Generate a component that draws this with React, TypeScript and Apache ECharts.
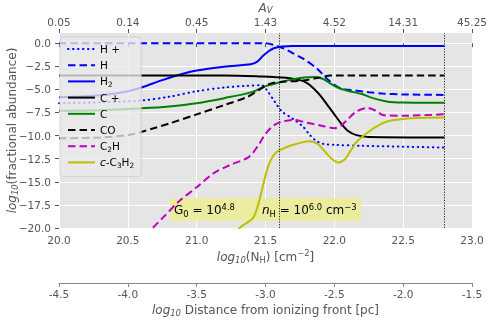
import React, { useEffect, useRef } from 'react';
import * as echarts from 'echarts';

// ---------- data ----------
const NH_TICKS = [20, 20.5, 21, 21.5, 22, 22.5, 23];
const AV_LABELS = ['0.05', '0.14', '0.45', '1.43', '4.52', '14.31', '45.25'];
const Y_TICKS = [-20, -17.5, -15, -12.5, -10, -7.5, -5, -2.5, 0];
const DIST_TICKS = [-4.5, -4, -3.5, -3, -2.5, -2, -1.5];
const MARKER_X = [21.6, 22.8];

const H_PLUS = [
  [20.0, -6.5], [20.3, -6.4], [20.6, -6.2], [20.8, -5.8], [21.0, -5.2], [21.2, -4.8],
  [21.35, -4.62], [21.47, -4.55], [21.52, -5.3], [21.57, -6.4], [21.62, -7.4], [21.7, -8.2],
  [21.77, -9.0], [21.82, -9.9], [21.87, -10.6], [21.92, -10.9], [22.0, -11.0], [22.2, -11.1],
  [22.5, -11.2], [22.8, -11.3],
];
const H_ATOM = [
  [20.0, 0.0], [21.0, 0.0], [21.5, 0.0], [21.55, -0.15], [21.63, -0.55], [21.7, -1.1],
  [21.77, -1.65], [21.87, -2.7], [21.95, -3.9], [22.02, -4.7], [22.08, -5.0], [22.14, -5.1],
  [22.25, -5.3], [22.35, -5.45], [22.5, -5.55], [22.8, -5.6],
];
const H2 = [
  [20.0, -5.85], [20.2, -5.75], [20.35, -5.55], [20.5, -5.2], [20.6, -4.8], [20.75, -4.0],
  [20.9, -3.3], [21.0, -2.95], [21.2, -2.55], [21.4, -2.25], [21.44, -2.0], [21.48, -1.4],
  [21.52, -0.9], [21.56, -0.55], [21.62, -0.35], [21.7, -0.3], [22.0, -0.3], [22.8, -0.3],
];
const C_PLUS = [
  [20.0, -3.5], [21.2, -3.5], [21.45, -3.6], [21.65, -3.75], [21.75, -4.0], [21.8, -4.3],
  [21.85, -4.9], [21.9, -5.7], [21.95, -6.7], [22.0, -7.7], [22.05, -8.7], [22.1, -9.5],
  [22.16, -9.95], [22.25, -10.15], [22.8, -10.2],
];
const C_ATOM = [
  [20.0, -7.3], [20.3, -7.25], [20.6, -7.05], [20.8, -6.85], [21.0, -6.5], [21.2, -5.95],
  [21.4, -5.3], [21.5, -4.65], [21.6, -4.25], [21.7, -3.9], [21.8, -3.68], [21.87, -3.65],
  [21.92, -3.9], [21.97, -4.35], [22.03, -4.85], [22.11, -5.2], [22.2, -5.5], [22.28, -5.95],
  [22.38, -6.3], [22.5, -6.42], [22.8, -6.45],
];
const CO = [
  [20.0, -10.3], [20.3, -10.2], [20.5, -9.95], [20.6, -9.6], [20.7, -9.15], [20.8, -8.7],
  [21.0, -7.7], [21.2, -6.7], [21.37, -5.8], [21.46, -5.0], [21.53, -4.4], [21.6, -4.2],
  [21.77, -4.05], [21.9, -3.7], [21.97, -3.5], [22.1, -3.5], [22.8, -3.5],
];
const C2H = [
  [20.62, -20.8], [20.68, -20.0], [20.76, -18.8], [20.88, -17.0], [21.0, -15.6], [21.12, -14.1],
  [21.24, -13.2], [21.38, -12.3], [21.45, -11.0], [21.5, -9.8], [21.56, -8.9], [21.62, -8.5],
  [21.7, -8.3], [21.8, -8.6], [21.9, -8.9], [22.0, -9.2], [22.05, -8.9], [22.1, -8.2],
  [22.16, -7.4], [22.24, -7.0], [22.3, -7.3], [22.36, -7.8], [22.5, -7.85], [22.8, -7.7],
];
const C_C3H2 = [
  [21.29, -20.5], [21.32, -19.9], [21.41, -18.9], [21.45, -17.3], [21.48, -15.5], [21.52, -13.3],
  [21.56, -12.1], [21.6, -11.6], [21.7, -11.0], [21.82, -10.6], [21.88, -10.9], [21.93, -11.7],
  [21.98, -12.5], [22.03, -12.9], [22.08, -12.5], [22.12, -11.6], [22.16, -10.7], [22.24, -9.7],
  [22.32, -8.9], [22.4, -8.4], [22.5, -8.2], [22.6, -8.1], [22.8, -8.05],
];

const DOT = [0.5, 4.5];
const DASH = [7.5, 4];
const SPECIES = [
  { name: 'H +', label: 'H +', data: H_PLUS, color: '#0000ff', dash: DOT as any },
  { name: 'H', label: 'H', data: H_ATOM, color: '#0000ff', dash: DASH as any },
  { name: 'H2', label: 'H{s|2}', data: H2, color: '#0000ff', dash: 'solid' as any },
  { name: 'C +', label: 'C +', data: C_PLUS, color: '#000000', dash: 'solid' as any },
  { name: 'C', label: 'C', data: C_ATOM, color: '#008000', dash: 'solid' as any },
  { name: 'CO', label: 'CO', data: CO, color: '#000000', dash: DASH as any },
  { name: 'C2H', label: 'C{s|2}H', data: C2H, color: '#bf00bf', dash: DASH as any },
  { name: 'c-C3H2', label: '{i|c}-C{s|3}H{s|2}', data: C_C3H2, color: '#bfbf00', dash: 'solid' as any },
];

const FONT = 'DejaVu Sans';
const GRAY = '#555555';

function richSet(size: number, color: string, lh?: number) {
  const sub = size * 0.7;
  return {
    s: { fontSize: sub, lineHeight: sub, verticalAlign: 'bottom', fontFamily: FONT, color },
    p: { fontSize: sub, lineHeight: sub, verticalAlign: 'top', fontFamily: FONT, color },
    i: { fontSize: size, lineHeight: lh ?? size + 3, fontStyle: 'italic', fontFamily: FONT, color },
    is: { fontSize: sub, lineHeight: sub, verticalAlign: 'bottom', fontStyle: 'italic', fontFamily: FONT, color },
  };
}

const fmtMinus = (v: number) => (v < 0 ? '\u2212' : '') + Math.abs(v).toFixed(1);

export default function App() {
  const ref = useRef<HTMLDivElement>(null);
  useEffect(() => {
    if (!ref.current) return;
    const chart = echarts.init(ref.current, null, { renderer: 'svg' });
    const legendLabels: Record<string, string> = {};
    SPECIES.forEach((s) => (legendLabels[s.name] = s.label));

    const series: any[] = SPECIES.map((s, i) => ({
      type: 'line',
      name: s.name,
      data: s.data,
      xAxisIndex: 0,
      yAxisIndex: 0,
      showSymbol: false,
      symbol: 'none',
      smooth: 0.3,
      clip: true,
      z: 3,
      lineStyle: { color: s.color, width: 2, type: s.dash, cap: s.dash === DOT ? 'round' : 'butt' },
      itemStyle: { color: s.color },
      markLine: i === 0 ? {
        silent: true,
        symbol: 'none',
        label: { show: false },
        lineStyle: { color: '#222', width: 1, type: [1.2, 1.5], cap: 'butt' },
        data: MARKER_X.map((x) => ({ xAxis: x })),
      } : undefined,
    }));

    const nameStyle = { fontFamily: FONT, fontSize: 12, lineHeight: 15, color: GRAY, rich: richSet(12, GRAY) };

    const option: any = {
      animation: false,
      grid: {
        left: 59, top: 33, right: 19, bottom: 93, show: true, backgroundColor: '#E5E5E5', borderWidth: 0,
        containLabel: false, outerBoundsMode: 'none',
      },
      legend: {
        left: 60, top: 37, orient: 'vertical',
        padding: [5, 7, 7, 7],
        itemWidth: 27, itemHeight: 14, itemGap: 2.2,
        backgroundColor: 'rgba(235,235,235,0.78)',
        borderColor: 'rgba(204,204,204,0.8)', borderWidth: 1, borderRadius: 3,
        data: SPECIES.map((s) => s.name),
        formatter: (name: string) => legendLabels[name],
        itemStyle: { color: 'rgba(0,0,0,0)', borderWidth: 0, opacity: 0 },
        textStyle: { fontFamily: FONT, fontSize: 10.5, lineHeight: 14, color: '#000', rich: richSet(10.5, '#000') },
        z: 5,
      },
      xAxis: [
        {
          type: 'value', min: 20, max: 23, interval: 0.5, position: 'bottom', gridIndex: 0,
          axisLine: { show: false },
          axisTick: { show: true, length: 4, lineStyle: { color: GRAY } },
          axisLabel: { margin: 6, color: GRAY, fontFamily: FONT, fontSize: 10.5, formatter: (v: number) => (NH_TICKS.includes(v) ? v.toFixed(1) : '') },
          splitLine: { show: true, lineStyle: { color: '#ffffff', width: 1 } },
          name: '{i|log}{is|10}(N{s|H}) [cm{p|\u22122}]',
          nameLocation: 'middle', nameGap: 21, nameMoveOverlap: false,
          nameTextStyle: nameStyle,
        },
        {
          type: 'value', min: 20, max: 23, interval: 0.5, position: 'top', gridIndex: 0,
          axisLine: { show: false },
          axisTick: { show: true, length: 4, lineStyle: { color: GRAY } },
          axisLabel: { margin: 6, color: GRAY, fontFamily: FONT, fontSize: 10.5, formatter: (v: number) => AV_LABELS[Math.round((v - 20) / 0.5)] ?? '' },
          splitLine: { show: false },
          name: '{i|A}{is|V}',
          nameLocation: 'middle', nameGap: 19, nameMoveOverlap: false,
          nameTextStyle: { fontFamily: FONT, fontSize: 12, lineHeight: 12, color: GRAY, rich: richSet(12, GRAY, 12) },
        },
        {
          type: 'value', min: -4.5, max: -1.5, interval: 0.5, position: 'bottom', offset: 55, gridIndex: 0,
          axisLine: { show: true, lineStyle: { color: '#888', width: 1 } },
          axisTick: { show: true, length: 4, lineStyle: { color: '#888' } },
          axisLabel: { margin: 5, color: GRAY, fontFamily: FONT, fontSize: 10.5, formatter: (v: number) => (DIST_TICKS.includes(v) ? v.toFixed(1) : '') },
          splitLine: { show: false },
          name: '{i|log}{is|10} Distance from ionizing front [pc]',
          nameLocation: 'middle', nameGap: 19, nameMoveOverlap: false,
          nameTextStyle: nameStyle,
        },
      ],
      yAxis: {
        type: 'value', min: -20, max: 1.1, interval: 2.5,
        axisLine: { show: false },
        axisTick: { show: true, length: 4, lineStyle: { color: GRAY }, customValues: Y_TICKS },
        axisLabel: { margin: 8, color: GRAY, fontFamily: FONT, fontSize: 10.5, formatter: (v: number) => (Y_TICKS.includes(v) ? fmtMinus(v) : ''), customValues: Y_TICKS },
        splitLine: { show: true, lineStyle: { color: '#ffffff', width: 1 } },
        name: '{i|log}{is|10}(fractional abundance)',
        nameLocation: 'middle', nameGap: 40, nameRotate: 90, nameMoveOverlap: false,
        nameTextStyle: nameStyle,
      },
      graphic: [
        { type: 'rect', z: 1, silent: true, shape: { x: 170, y: 198, width: 191, height: 23 }, style: { fill: '#ececa0' } },
        {
          type: 'text', z: 10, x: 174, y: 210, silent: true,
          style: { text: 'G{s|0} = 10{p|4.8}', fontFamily: FONT, fontSize: 12, lineHeight: 15, fill: '#000', verticalAlign: 'middle', rich: richSet(12, '#000') },
        },
        {
          type: 'text', z: 10, x: 262, y: 210, silent: true,
          style: { text: '{i|n}{s|H} = 10{p|6.0} cm{p|\u22123}', fontFamily: FONT, fontSize: 12, lineHeight: 15, fill: '#000', verticalAlign: 'middle', rich: richSet(12, '#000') },
        },
      ],
      series,
    };
    chart.setOption(option);
    return () => chart.dispose();
  }, []);
  return <div ref={ref} style={{ position: 'fixed', left: 0, top: 0, width: 491, height: 321 }} />;
}
